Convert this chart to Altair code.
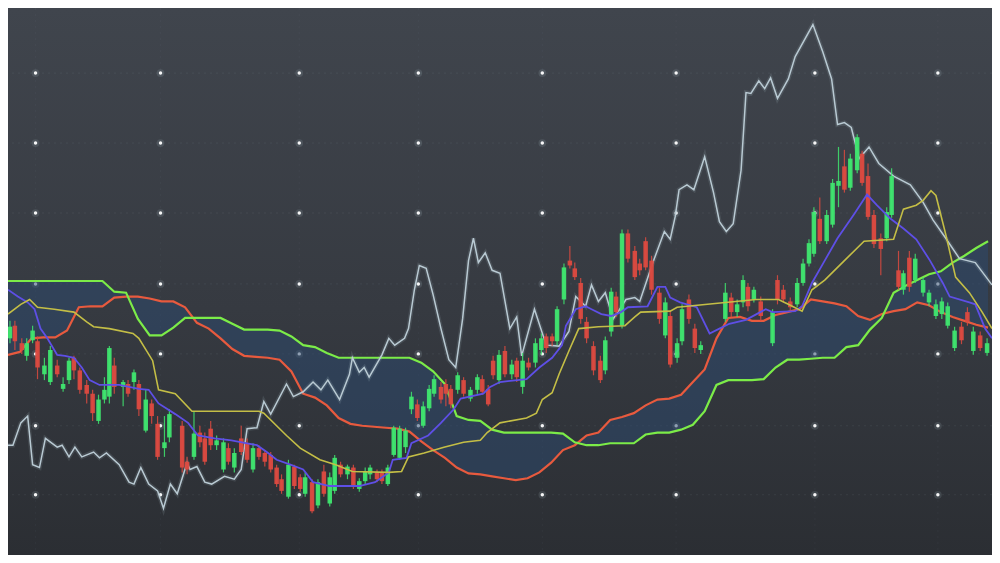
import altair as alt
import pandas as pd

# ---------------- data (time units along x, price units along y) ----------------
candle_t = [2,7,14,19,25,30,37,43,50,56,62,67,73,80,86,92,98,103,108,117,
            122,128,133,140,146,152,159,164,177,182,189,195,200,206,212,219,224,230,237,243,
            249,255,261,267,273,278,285,291,297,302,309,315,321,327,332,338,345,351,357,363,
            368,375,380,386,392,398,404,410,416,422,428,433,440,445,450,457,463,470,477,482,
            488,493,499,505,512,517,523,529,536,542,547,553,558,565,571,576,582,588,595,602,
            607,613,618,624,630,637,642,648,654,662,668,673,680,685,692,698,704,729,735,741,
            747,752,758,765,777,782,788,795,802,808,814,819,825,832,838,844,850,856,863,868,
            874,880,887,893,898,905,910,916,922,930,936,943,949,955,962,969,975,981,988,995]
candle_open = [260,273,255,242,258,257,223,215,232,208,217,240,227,212,203,175,197,200,232,210,
               213,215,213,165,193,172,147,158,170,133,138,163,157,167,150,125,147,127,157,152,
               125,147,142,140,127,115,97,128,117,100,112,88,123,90,103,130,120,127,105,113,
               120,122,122,110,140,137,148,187,192,170,188,203,210,213,208,207,217,198,207,218,
               208,237,217,247,223,237,210,235,235,248,262,262,257,300,340,332,317,277,252,237,
               227,267,303,273,368,350,337,360,340,307,263,283,240,257,300,270,248,280,302,287,
               297,313,300,298,255,320,310,298,295,317,337,347,383,360,377,417,437,415,433,450,
               427,387,363,363,387,330,310,343,320,307,297,283,285,273,250,272,287,247,263,245]
candle_close = [272,257,248,255,268,230,232,248,223,213,237,227,207,203,183,197,207,250,210,215,
                203,225,187,197,180,138,153,182,127,125,162,153,133,150,155,153,133,142,143,135,
                147,138,133,125,110,103,130,108,105,117,82,112,100,117,137,120,128,108,113,123,
                127,115,113,127,168,167,165,200,178,190,208,218,197,203,192,222,203,207,220,205,
                192,222,243,223,233,220,237,230,255,260,250,257,290,333,335,323,280,260,227,217,
                258,308,287,368,342,323,330,333,310,280,297,233,255,290,280,250,253,307,287,295,
                320,293,310,283,287,300,300,292,317,337,358,390,360,387,420,422,413,445,467,420,
                385,357,352,390,427,313,327,313,342,320,307,295,298,293,268,258,277,267,250,255]
candle_high = [278,278,260,260,273,262,240,252,238,220,240,242,230,217,207,202,220,252,240,217,
               217,228,217,207,197,180,180,187,175,138,185,170,163,175,160,157,152,147,170,157,
               152,150,145,143,130,120,135,130,120,122,115,115,130,122,140,133,130,130,116,127,
               130,125,125,130,170,170,168,205,197,195,212,222,215,218,212,225,220,210,223,222,
               212,242,248,252,238,240,245,240,260,265,265,265,293,337,355,338,322,282,257,242,
               262,312,308,372,372,355,342,364,345,312,302,288,260,295,305,275,257,317,307,300,
               325,317,313,303,290,325,315,302,322,342,362,395,405,392,424,457,454,450,470,453,
               440,392,368,395,435,350,330,350,347,323,310,300,302,297,272,277,292,272,267,260]
candle_low = [255,248,244,237,255,218,217,212,220,205,213,218,203,193,175,172,193,193,203,190,
              200,207,180,163,172,135,138,153,122,120,135,148,130,145,145,122,130,122,140,132,
              122,135,128,122,107,100,95,105,102,97,80,85,97,87,100,117,115,105,102,110,
              115,112,110,108,138,135,142,182,175,168,185,200,193,190,188,203,200,195,203,202,
              190,218,213,220,218,215,203,227,230,243,245,252,253,295,332,320,275,255,222,214,
              223,262,282,270,338,320,325,330,305,275,260,230,235,253,275,245,244,277,282,282,
              292,288,297,278,252,295,297,288,292,314,334,344,357,357,374,395,410,412,430,417,
              382,353,325,360,384,310,305,308,317,303,293,280,280,270,247,254,273,243,247,242]

# lagging span (light grey-blue)
white_t = [0,5,13,20,25,32,38,50,55,62,68,75,87,93,100,113,123,128,135,143,
           152,158,165,172,182,185,192,200,207,220,230,237,243,253,260,267,283,290,300,310,
           318,325,337,347,350,357,362,367,380,387,393,403,407,413,418,425,432,440,448,455,
           462,468,473,478,485,492,500,510,517,522,535,547,560,570,577,587,593,600,607,615,
           623,628,637,642,655,667,673,678,682,690,697,708,717,723,730,737,745,750,755,763,
           769,775,782,793,800,818,828,837,843,850,857,865,875,885,900,917,930,940,953,967,
           983,1000]
white_p = [150,150,173,180,130,127,157,148,150,138,148,138,143,137,142,130,112,110,127,110,
           103,85,110,100,132,125,128,112,110,118,115,125,167,168,195,182,213,200,205,215,
           207,217,197,223,240,225,230,220,243,260,253,260,270,310,335,332,305,270,238,230,
           280,340,363,338,348,330,327,270,282,242,290,253,252,267,303,293,315,298,307,280,
           292,300,302,298,337,370,362,385,413,418,413,447,410,380,370,378,433,513,512,525,
           517,528,507,527,550,583,555,527,480,482,477,445,457,440,427,418,400,382,363,342,
           338,315]

# conversion line (blue)
blue_t = [0,10,20,27,33,40,50,58,67,75,83,93,113,133,143,153,170,183,193,210,
          227,243,253,263,273,287,300,310,327,357,373,387,391,405,410,427,440,453,460,483,
          490,500,527,540,553,563,567,577,587,593,603,613,623,630,650,660,668,673,683,700,
          713,723,733,750,770,777,800,807,817,830,843,860,873,883,897,910,923,937,950,957,
          977,983,993,1000]
blue_p = [310,303,297,290,270,260,243,242,240,230,217,212,212,208,207,193,182,173,160,157,
          155,152,150,143,135,130,125,112,108,108,112,122,135,137,152,160,173,187,198,203,
          210,215,218,230,240,253,273,290,293,290,285,283,287,292,293,313,313,302,297,292,
          265,270,275,279,290,287,288,293,317,340,363,388,408,397,383,373,362,340,317,303,
          297,295,270,260]

# base line (yellow)
yellow_t = [0,13,22,30,47,67,80,87,103,127,133,147,153,170,187,255,260,283,297,317,
            333,350,387,400,407,423,443,463,480,487,500,527,537,543,553,560,570,580,600,627,
            637,643,673,680,760,783,793,807,817,830,850,870,900,910,923,930,938,943,953,963,
            977,990,1000]
yellow_p = [285,295,300,292,290,287,277,272,270,265,260,237,207,203,185,185,183,160,147,135,
            130,123,122,123,138,142,148,153,155,163,173,178,183,197,204,223,247,270,272,273,
            282,287,288,292,300,300,295,288,310,320,340,360,362,393,397,402,412,407,367,323,
            307,287,270]

# leading spans A (red) and B (green), sampled on the same times
cloud_t = list(range(0, 1000, 12))
span_a = [243,246,260,261,261,268,292,293,293,302,303,303,
          301,298,298,292,276,270,260,249,242,241,240,238,
          226,203,199,191,178,172,170,169,168,167,164,154,
          145,137,127,121,120,118,116,114,116,122,132,145,
          150,160,163,176,179,183,191,197,198,202,215,228,
          260,281,282,278,278,284,287,290,300,298,296,293,
          283,279,285,288,290,297,294,287,282,278,274,271]
span_b = [319,319,319,319,319,319,319,319,319,308,307,280,
          263,263,271,281,281,281,281,275,269,269,269,268,
          262,253,251,245,240,240,240,240,240,240,240,235,
          226,213,180,176,175,166,163,163,163,163,163,162,
          153,150,150,152,152,152,161,163,163,166,171,185,
          212,217,217,217,218,230,238,238,239,240,240,251,
          253,269,281,307,314,320,326,329,338,345,353,360]

# decorative grid
grid_cols = [28,155,296,417,543,679,820,945]
grid_rows = [533,461,389,316,244,170,99]

# ---------------- build ----------------
W, H = 984, 547
xs = alt.Scale(domain=[0, 1000], nice=False, zero=False, padding=0)
ys = alt.Scale(domain=[37, 600], nice=False, zero=False, padding=0)

def X(f):
    return alt.X(f, type="quantitative", scale=xs, axis=None)

def Y(f):
    return alt.Y(f, type="quantitative", scale=ys, axis=None)

candles = pd.DataFrame({"t": candle_t, "o": candle_open, "h": candle_high,
                        "l": candle_low, "c": candle_close})
candles["dir"] = ["up" if c >= o else "down" for o, c in zip(candles.o, candles.c)]
dir_color = alt.Color("dir:N", scale=alt.Scale(domain=["up", "down"],
                      range=["#3fe56f", "#dc4a40"]), legend=None)

bg_df = pd.DataFrame({"x0": [0], "x1": [1000], "y0": [37], "y1": [600]})
bg = alt.Chart(bg_df).mark_rect(
    color=alt.Gradient(gradient="linear",
                       stops=[alt.GradientStop(offset=0, color="#40454d"),
                              alt.GradientStop(offset=0.55, color="#363a41"),
                              alt.GradientStop(offset=1, color="#2b2e33")],
                       x1=0, x2=0, y1=0, y2=1)
).encode(x=X("x0"), x2="x1", y=Y("y0"), y2="y1")

row_df = pd.DataFrame({"p": grid_rows})
col_df = pd.DataFrame({"t": grid_cols})
hlines = alt.Chart(row_df).mark_rule(color="#9fb0bd", opacity=0.1, strokeDash=[2, 4],
                                     strokeWidth=1).encode(y=Y("p"))
vlines = alt.Chart(col_df).mark_rule(color="#9fb0bd", opacity=0.05, strokeDash=[2, 4],
                                     strokeWidth=1).encode(x=X("t"))
dots_df = pd.DataFrame([(c, r) for r in grid_rows for c in grid_cols], columns=["t", "p"])
dots_glow = alt.Chart(dots_df).mark_circle(color="#cfe3f0", opacity=0.12, size=60).encode(
    x=X("t"), y=Y("p"))
dots = alt.Chart(dots_df).mark_circle(color="#ffffff", opacity=0.95, size=12).encode(
    x=X("t"), y=Y("p"))

cloud_df = pd.DataFrame({"t": cloud_t, "a": span_a, "b": span_b})
cloud = alt.Chart(cloud_df).mark_area(color="#2b4a70", opacity=0.5).encode(
    x=X("t"), y=Y("a"), y2="b")
span_a_line = alt.Chart(cloud_df).mark_line(color="#e85a3e", strokeWidth=2.2).encode(
    x=X("t"), y=Y("a"))
span_b_line = alt.Chart(cloud_df).mark_line(color="#7cec48", strokeWidth=2.2).encode(
    x=X("t"), y=Y("b"))

white_df = pd.DataFrame({"t": white_t, "p": white_p})
white_glow = alt.Chart(white_df).mark_line(color="#c8dbe6", strokeWidth=4.5, opacity=0.12).encode(
    x=X("t"), y=Y("p"))
white_line = alt.Chart(white_df).mark_line(color="#b9cad3", strokeWidth=1.5).encode(
    x=X("t"), y=Y("p"))

wicks = alt.Chart(candles).mark_rule(strokeWidth=1.2, opacity=0.85).encode(
    x=X("t"), y=Y("l"), y2="h", color=dir_color)
bodies = alt.Chart(candles).mark_bar(size=4.5, opacity=0.95).encode(
    x=X("t"), y=Y("o"), y2="c", color=dir_color)

blue_df = pd.DataFrame({"t": blue_t, "p": blue_p})
blue_line = alt.Chart(blue_df).mark_line(color="#5e4fe6", strokeWidth=1.8).encode(
    x=X("t"), y=Y("p"))
yellow_df = pd.DataFrame({"t": yellow_t, "p": yellow_p})
yellow_line = alt.Chart(yellow_df).mark_line(color="#c4be46", strokeWidth=1.6).encode(
    x=X("t"), y=Y("p"))

chart = alt.layer(
    bg, hlines, vlines, dots_glow, dots, cloud, span_a_line, span_b_line,
    white_glow, white_line, wicks, bodies, blue_line, yellow_line
).properties(
    width=W, height=H, padding=0,
    autosize=alt.AutoSizeParams(type="none"),
    background="#2f3338"
).configure_view(stroke=None, clip=True)

chart.save("out.html", embed_options={"renderer": "svg", "actions": False})
